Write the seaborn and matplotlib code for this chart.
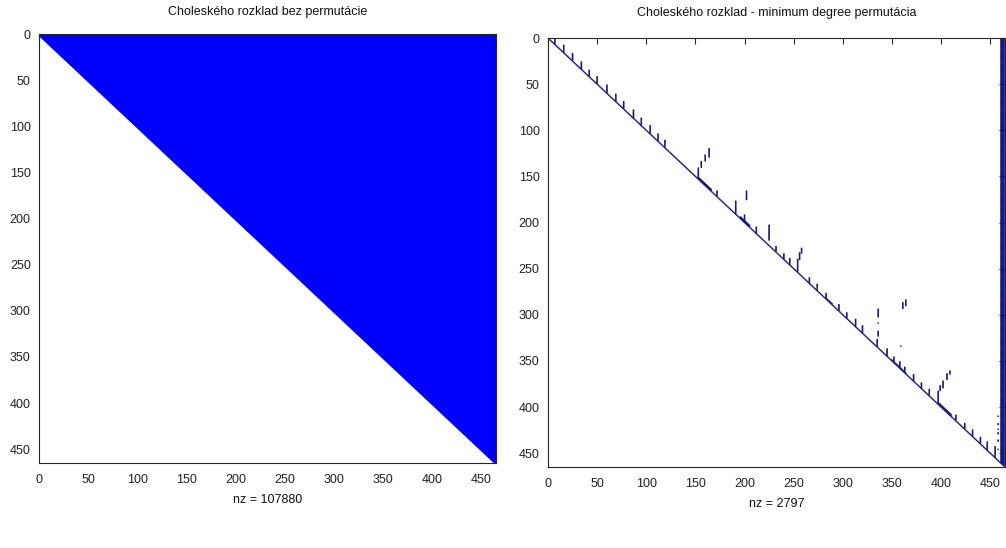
import numpy as np
import pandas as pd
import matplotlib
matplotlib.use("Agg")
import matplotlib.pyplot as plt
import seaborn as sns

# ---------------- data ----------------
n = 464
titles = ["Choleského rozklad bez permutácie", "Choleského rozklad - minimum degree permutácia"]
xlabels = ["nz = 107880", "nz = 2797"]
tick_values = [0, 50, 100, 150, 200, 250, 300, 350, 400, 450]

# short vertical runs just above the diagonal (column, length in rows)
tick_cols = [7, 16, 25, 34, 42, 50, 60, 69, 77, 87, 95, 104, 112, 119, 172, 212, 232,
             240, 246, 266, 274, 283, 296, 304, 313, 320, 335, 345, 352, 358, 363, 372,
             380, 388, 415, 424, 432, 440, 447, 455]
tick_lens = [7, 8, 8, 8, 7, 8, 9, 8, 8, 9, 8, 9, 8, 8, 6, 7, 6,
             6, 7, 6, 7, 6, 7, 6, 8, 8, 8, 8, 6, 7, 6, 7,
             6, 7, 6, 6, 7, 7, 9, 12]

# off-diagonal segments (column, first row, last row)
seg_col = [153, 156, 160, 164, 191, 202, 200, 225, 254, 256, 258, 336, 336, 336, 359,
           361, 364, 397, 399, 402, 406, 409, 458, 458, 458, 458, 458, 458]
seg_top = [141, 134, 127, 120, 177, 166, 192, 203, 240, 233, 228, 294, 309, 318, 334,
           287, 284, 383, 377, 372, 364, 361, 410, 418, 424, 428, 436, 446]
seg_bot = [152, 140, 133, 129, 190, 175, 199, 219, 253, 240, 233, 302, 309, 323, 334,
           293, 290, 396, 382, 379, 370, 364, 410, 419, 424, 429, 437, 446]

# thickened diagonal bands (first column, last column, extra super-diagonals)
band_start = [153, 196, 283, 350, 397]
band_end = [166, 205, 289, 364, 410]
band_width = [2, 2, 1, 1, 2]

# fully dense trailing columns
dense_cols = [461, 462, 463, 464]

# ---------------- build patterns ----------------
r_full, c_full = np.triu_indices(n)
left_df = pd.DataFrame({"col": c_full + 1, "row": r_full + 1})

pts = set((i, i) for i in range(1, n + 1))
for c, L in zip(tick_cols, tick_lens):
    for r in range(c - L, c):
        pts.add((r, c))
for c, a, b in zip(seg_col, seg_top, seg_bot):
    for r in range(a, b + 1):
        pts.add((r, c))
for a, b, w in zip(band_start, band_end, band_width):
    for c in range(a, b + 1):
        for k in range(1, w + 1):
            pts.add((c - k, c))
for c in dense_cols:
    for r in range(1, c + 1):
        pts.add((r, c))
pts = sorted(pts)
right_df = pd.DataFrame({"row": [p[0] for p in pts], "col": [p[1] for p in pts]})

# ---------------- plot ----------------
sns.set_style("white")
plt.rcParams["font.family"] = ["Liberation Sans", "DejaVu Sans"]
plt.rcParams["font.size"] = 9

fig = plt.figure(figsize=(10.06, 5.48), dpi=100)
ax1 = fig.add_axes([0.0388, 0.1551, 0.4543, 0.7828])
ax2 = fig.add_axes([0.5447, 0.1478, 0.4543, 0.7828])

sns.scatterplot(data=left_df, x="col", y="row", ax=ax1, marker="s", s=4,
                color="#0000ff", linewidth=0, edgecolor="none", legend=False)
sns.scatterplot(data=right_df, x="col", y="row", ax=ax2, marker="s", s=1.1,
                color="#141482", linewidth=0, edgecolor="none", legend=False)
for ax in (ax1, ax2):
    for coll in ax.collections:
        coll.set_snap(False)

for ax, t, xl, pad in zip([ax1, ax2], titles, xlabels, [14, 16]):
    ax.set_xlim(0, n + 1)
    ax.set_ylim(n + 1, 0)
    ax.set_xticks(tick_values)
    ax.set_yticks(tick_values)
    ax.set_xticklabels([str(v) for v in tick_values])
    ax.set_yticklabels([str(v) for v in tick_values])
    ax.tick_params(direction="in", length=4, width=0.8, color="#262626",
                   top=True, right=True, labelsize=9, pad=6, labelcolor="#222222")
    ax.tick_params(axis="x", pad=8)
    ax.set_title(t, fontsize=9, pad=pad, color="#111111")
    ax.set_xlabel(xl, fontsize=9, labelpad=6, color="#111111")
    ax.set_ylabel("")
    for s in ax.spines.values():
        s.set_visible(True)
        s.set_linewidth(0.8)
        s.set_color("#262626")
    ax.set_facecolor("white")

fig.savefig("out.png", dpi=100, facecolor="white")
